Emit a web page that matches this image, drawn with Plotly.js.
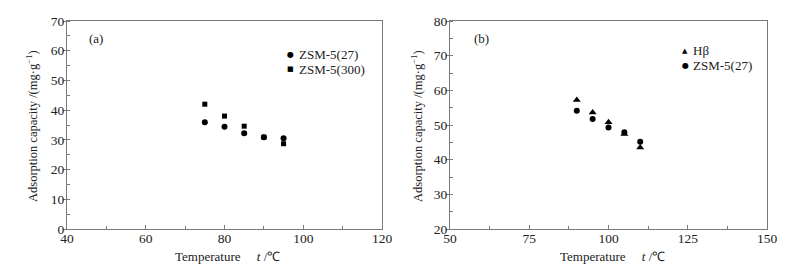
<!DOCTYPE html>
<html>
<head>
<meta charset="utf-8">
<script src="https://cdn.plot.ly/plotly-3.0.1.min.js"></script>
<style>html,body{margin:0;padding:0;background:#fff;}#chart{width:793px;height:268px;}</style>
</head>
<body>
<div id="chart"></div>
<script>
// Panel (a)
const tempA = [75, 80, 85, 90, 95];
const zsm27A = [35.9, 34.4, 32.2, 30.9, 30.5];
const zsm300A = [42.0, 38.0, 34.6, 30.9, 28.7];
// Panel (b)
const tempB = [90, 95, 100, 105, 110];
const hbetaB = [57.2, 53.6, 50.8, 47.4, 43.5];
const zsm27B = [54.1, 51.7, 49.3, 47.9, 45.2];
// Legend labels
const namesA = ['ZSM-5(27)', 'ZSM-5(300)'];
const namesB = ['Hβ', 'ZSM-5(27)'];

const FONT = 'Liberation Serif, Times New Roman, serif';
const TXT = '#222';
const AX = '#7a7a7a';

function xax(domain, range, dtick, minorD, anchor) {
  return {
    domain: domain, range: range, dtick: dtick, tick0: range[0],
    showline: true, mirror: true, linecolor: AX, linewidth: 1,
    ticks: 'inside', ticklen: 4, tickcolor: AX, tickwidth: 1,
    minor: {dtick: minorD, ticks: 'inside', ticklen: 3, tickcolor: AX, tickwidth: 1, showgrid: false},
    showgrid: false, zeroline: false, anchor: anchor, ticklabelstandoff: -3,
    tickfont: {family: FONT, size: 13.5, color: TXT}, automargin: false
  };
}
function yax(domain, range, dtick, minorD, anchor) {
  return {
    domain: domain, range: range, dtick: dtick, tick0: range[0],
    showline: true, mirror: true, linecolor: AX, linewidth: 1,
    ticks: 'outside', ticklen: 3, tickcolor: AX, tickwidth: 1,
    minor: {dtick: minorD, ticks: 'inside', ticklen: 3, tickcolor: AX, tickwidth: 1, showgrid: false},
    showgrid: false, zeroline: false, anchor: anchor, ticklabelstandoff: -4,
    tickfont: {family: FONT, size: 13.5, color: TXT}, automargin: false
  };
}

const mk = (sym, size) => ({symbol: sym, size: size, color: '#000'});

const traces = [
  {x: tempA, y: zsm27A, mode: 'markers', name: namesA[0], marker: mk('circle', 6), xaxis: 'x', yaxis: 'y'},
  {x: tempA, y: zsm300A, mode: 'markers', name: namesA[1], marker: mk('square', 5), xaxis: 'x', yaxis: 'y'},
  {x: tempB, y: hbetaB, mode: 'markers', name: namesB[0], marker: mk('triangle-up', 7), xaxis: 'x2', yaxis: 'y2'},
  {x: tempB, y: zsm27B, mode: 'markers', name: namesB[1], marker: mk('circle', 6), xaxis: 'x2', yaxis: 'y2'}
];

const W = 793, H = 268;
const mT = 21, mB = 39;
const ph = H - mT - mB;
const px = v => v / W;
const py = v => 1 - (v - mT) / ph; // pixel y -> paper y

const ytitle = 'Adsorption capacity /(mg·g<sup>−1</sup>)';
const xtitle = 'Temperature&nbsp;&nbsp;&nbsp;&nbsp;&nbsp;<i>t</i> /℃';

const tf = {family: FONT, size: 13, color: TXT};
const gf = {family: 'DejaVu Sans', size: 8, color: '#000'};
function ann(text, x, y, opts) {
  return Object.assign({text: text, xref: 'paper', yref: 'paper', x: px(x), y: py(y),
    xanchor: 'left', yanchor: 'middle', showarrow: false, font: tf}, opts || {});
}

const annotations = [
  ann('(a)', 87, 38),
  ann('(b)', 472, 38),
  ann(ytitle, 32, 126, {textangle: -90, xanchor: 'center', font: {family: FONT, size: 12.5, color: TXT}}),
  ann(ytitle, 417, 126, {textangle: -90, xanchor: 'center', font: {family: FONT, size: 12.5, color: TXT}}),
  ann(xtitle, 227, 256, {xanchor: 'center'}),
  ann(xtitle, 612, 256, {xanchor: 'center'}),
  // legend (a)
  ann('●', 290, 54.5, {xanchor: 'center', font: gf}),
  ann(namesA[0], 297, 54.5),
  ann('■', 290, 69, {xanchor: 'center', font: {family: 'DejaVu Sans', size: 7, color: '#000'}}),
  ann(namesA[1], 297, 69),
  // legend (b)
  ann('▲', 685, 51, {xanchor: 'center', font: {family: 'DejaVu Sans', size: 7, color: '#000'}}),
  ann(namesB[0], 691, 51),
  ann('●', 685, 65.5, {xanchor: 'center', font: gf}),
  ann(namesB[1], 691, 65.5)
];

const layout = {
  width: W, height: H,
  margin: {l: 0, r: 0, t: mT, b: mB},
  paper_bgcolor: '#fff', plot_bgcolor: '#fff',
  font: {family: FONT, size: 13, color: TXT},
  showlegend: false,
  xaxis: xax([px(67), px(382)], [40, 120], 20, 10, 'y'),
  yaxis: yax([0, 1], [0, 70], 10, 5, 'x'),
  xaxis2: xax([px(450), px(767)], [50, 150], 25, 12.5, 'y2'),
  yaxis2: yax([0, 1], [20, 80], 10, 5, 'x2'),
  annotations: annotations
};

Plotly.newPlot('chart', traces, layout, {displayModeBar: false, staticPlot: true});
</script>
</body>
</html>
